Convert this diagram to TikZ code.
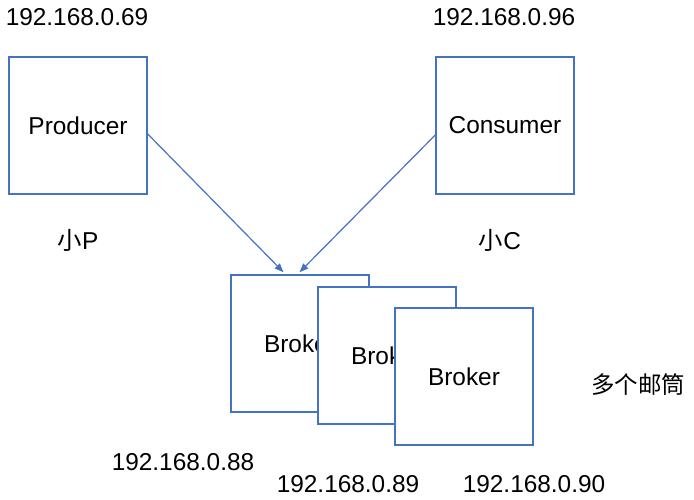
\documentclass[tikz,border=0pt]{standalone}
\usepackage{fontspec}
\setmainfont{Liberation Sans}
\newfontfamily\cjk{Noto Sans CJK SC}
\usetikzlibrary{arrows.meta}
\definecolor{boxblue}{HTML}{4472C4}
\tikzset{
  box/.style={draw=boxblue, line width=1.5pt, fill=white, minimum width=138pt, minimum height=137pt, inner sep=0pt, font=\fontsize{24.4}{29}\selectfont},
  lbl/.style={inner sep=0pt, font=\fontsize{24.4}{29}\selectfont},
  conn/.style={draw=boxblue, line width=1.2pt, -{Triangle[length=9pt,width=7pt]}}
}
\begin{document}
\begin{tikzpicture}[x=1pt,y=-1pt]
\useasboundingbox (0,0) rectangle (694,499);
\node[box] (prod) at (78,125.5) {Producer};
\node[box] (cons) at (505,125.5) {Consumer};
\node[lbl] (ipP) at (77,17) {192.168.0.69};
\node[lbl] (ipC) at (504,17) {192.168.0.96};
\node[lbl] (smP) at (78,240) {{\cjk 小}P};
\node[lbl] (smC) at (500,240) {{\cjk 小}C};
\node[box] (b1) at (300,343.5) {Broker};
\node[box] (b2) at (387,355.5) {Broker};
\node[box] (b3) at (464,376.5) {Broker};
\draw[conn] ([yshift=-8.5pt]prod.east) -- ([xshift=-16.5pt,yshift=2pt]b1.north);
\draw[conn] ([yshift=-9.5pt]cons.west) -- ([xshift=-0.5pt,yshift=2pt]b1.north);
\node[lbl] (ip88) at (183,462) {192.168.0.88};
\node[lbl] (ip89) at (348,484) {192.168.0.89};
\node[lbl] (ip90) at (534,484) {192.168.0.90};
\node[lbl,font=\cjk\fontsize{23.5}{28}\selectfont] (mail) at (638,385) {多个邮筒};
\end{tikzpicture}
\end{document}
